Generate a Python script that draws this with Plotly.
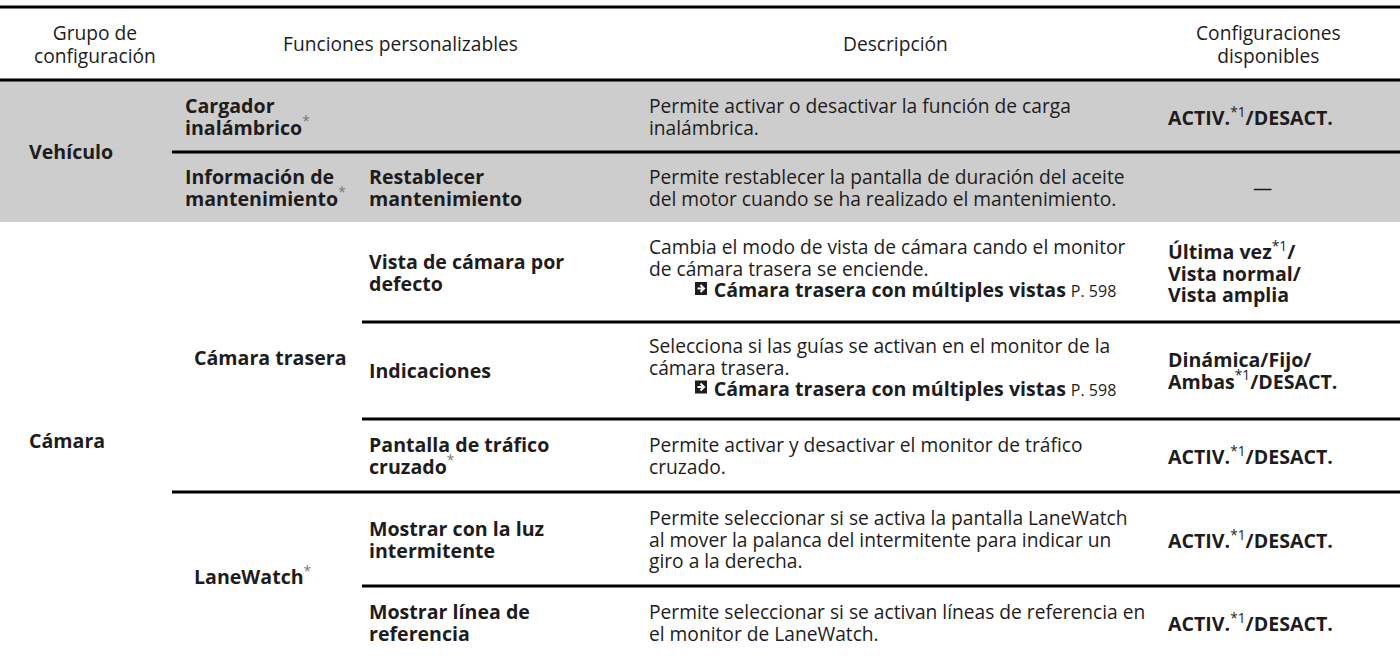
import plotly.graph_objects as go

# ---------------- data ----------------
header_labels = [["Grupo de", "configuración"], ["Funciones personalizables"],
                 ["Descripción"], ["Configuraciones", "disponibles"]]

group_names = ["Vehículo", "Cámara"]
group_spans = [(0, 2), (2, 7)]

subgroup_names = [["Cargador", "inalámbrico*"], ["Información de", "mantenimiento*"],
                  ["Cámara trasera"], ["LaneWatch*"]]
subgroup_spans = [(0, 1), (1, 2), (2, 5), (5, 7)]

function_names = [[], ["Restablecer", "mantenimiento"], ["Vista de cámara por", "defecto"],
                  ["Indicaciones"], ["Pantalla de tráfico", "cruzado*"],
                  ["Mostrar con la luz", "intermitente"], ["Mostrar línea de", "referencia"]]

descriptions = [
    ["Permite activar o desactivar la función de carga", "inalámbrica."],
    ["Permite restablecer la pantalla de duración del aceite",
     "del motor cuando se ha realizado el mantenimiento."],
    ["Cambia el modo de vista de cámara cando el monitor", "de cámara trasera se enciende."],
    ["Selecciona si las guías se activan en el monitor de la", "cámara trasera."],
    ["Permite activar y desactivar el monitor de tráfico", "cruzado."],
    ["Permite seleccionar si se activa la pantalla LaneWatch",
     "al mover la palanca del intermitente para indicar un", "giro a la derecha."],
    ["Permite seleccionar si se activan líneas de referencia en", "el monitor de LaneWatch."],
]

references = [None, None, ("Cámara trasera con múltiples vistas", "P. 598"),
              ("Cámara trasera con múltiples vistas", "P. 598"), None, None, None]

settings = [["ACTIV.*1/DESACT."], ["—"], ["Última vez*1/", "Vista normal/", "Vista amplia"],
            ["Dinámica/Fijo/", "Ambas*1/DESACT."], ["ACTIV.*1/DESACT."],
            ["ACTIV.*1/DESACT."], ["ACTIV.*1/DESACT."]]

shaded_groups = [0]

# ---------------- layout constants ----------------
W, H = 1400, 659
TOP = 7
ROW_EDGES = [80, 152, 222, 322, 419, 492, 586, 659]
HEADER_X = [95, 400, 895, 1268]
DASH_X = 1262
X_GROUP, X_SUB, X_SUB2, X_FUNC, X_DESC, X_SET = 28, 184, 193, 368, 648, 1167
X_SUB_LINE, X_FUNC_LINE = 172, 362
LINE_H = 21.5
HEAD_LH = 23
TXT = "#1e1c1c"
FONT = "Open Sans"
FS = 19.2
FSB = 19.6
GRAY = "#cdcdcd"
LW = 3
REF_INDENT = 13  # non-breaking spaces before the cross-reference line
ARROW_DX = 47
REF_SHIFT = 4


def fmt_bold(s):
    """bold text with non-bold superscript marks"""
    if "*1" in s:
        a, b = s.split("*1")
        return (f"<b>{a}</b>" if a else "") + "<sup>*1</sup>" + (f"<b>{b}</b>" if b else "")
    if s.endswith("*"):
        return f"<b>{s[:-1]}</b><sup><span style='color:#777'>*</span></sup>"
    return f"<b>{s}</b>"


fig = go.Figure()
fig.add_trace(go.Scatter(x=[0, W], y=[0, H], mode="markers", marker=dict(opacity=0),
                         hoverinfo="skip", showlegend=False))

shapes = []
ann = []


def block(x, mid, lines, anchor="left", bold=False, lh=LINE_H, raw=False):
    fs = FSB if bold else FS
    parts = []
    for ln in lines:
        body = ln if raw else (fmt_bold(ln) if bold else ln)
        parts.append(f"<span style='font-size:{fs}px'>{body}</span>")
    ann.append(dict(x=x, y=mid, xref="x", yref="y", text="<br>".join(parts), showarrow=False,
                    xanchor=anchor, yanchor="middle", align=anchor, borderpad=0,
                    font=dict(family=FONT, size=lh / 1.3, color=TXT)))


# shading
for g in shaded_groups:
    a, b = group_spans[g]
    shapes.append(dict(type="rect", x0=0, x1=W, y0=ROW_EDGES[a], y1=ROW_EDGES[b],
                       fillcolor=GRAY, line=dict(width=0), layer="below"))

# top and header lines
for yy in (TOP, ROW_EDGES[0]):
    shapes.append(dict(type="line", x0=0, x1=W, y0=yy, y1=yy, line=dict(color="black", width=LW)))

# header text
hmid = (TOP + ROW_EDGES[0]) / 2
for hx, lab in zip(HEADER_X, header_labels):
    block(hx, hmid, lab, anchor="center", lh=HEAD_LH)

# separators
sub_starts = {a for a, b in subgroup_spans}
grp_starts = {a for a, b in group_spans}
for r in range(1, len(function_names)):
    if r in grp_starts:
        continue
    x0 = X_SUB_LINE if r in sub_starts else X_FUNC_LINE
    shapes.append(dict(type="line", x0=x0, x1=W, y0=ROW_EDGES[r], y1=ROW_EDGES[r],
                       line=dict(color="black", width=LW)))

# groups
for name, (a, b) in zip(group_names, group_spans):
    block(X_GROUP, (ROW_EDGES[a] + ROW_EDGES[b]) / 2, [name], bold=True)

# subgroups
for name, (a, b) in zip(subgroup_names, subgroup_spans):
    xs = X_SUB if (b - a) == 1 else X_SUB2
    block(xs, (ROW_EDGES[a] + ROW_EDGES[b]) / 2, name, bold=True)

# rows
for r in range(len(function_names)):
    mid = (ROW_EDGES[r] + ROW_EDGES[r + 1]) / 2
    if function_names[r]:
        block(X_FUNC, mid, function_names[r], bold=True)
    lines = list(descriptions[r])
    if references[r]:
        rt, rp = references[r]
        lines.append("\u00a0" * REF_INDENT +
                     f"<span style='font-size:{FSB}px'><b>{rt}</b></span> "
                     f"<span style='font-size:16px'>{rp}</span>")
        bmid = mid - REF_SHIFT
        block(X_DESC, bmid, lines)
        yr = bmid + (len(lines) - 1) / 2 * LINE_H - 1
        ax = X_DESC + ARROW_DX
        shapes.append(dict(type="rect", x0=ax, x1=ax + 12, y0=yr - 6.5, y1=yr + 6.5,
                           fillcolor=TXT, line=dict(width=0)))
        shapes.append(dict(type="path",
                           path=f"M {ax + 2.5},{yr} L {ax + 8.5},{yr} M {ax + 5.5},{yr - 3.5} "
                                f"L {ax + 9},{yr} L {ax + 5.5},{yr + 3.5}",
                           line=dict(color="white", width=2)))
    else:
        block(X_DESC, mid, lines)
    s = settings[r]
    if s == ["—"]:
        block(DASH_X, mid, s, anchor="center")
    else:
        block(X_SET, mid, s, bold=True)

fig.update_layout(
    width=W, height=H, margin=dict(l=0, r=0, t=0, b=0),
    paper_bgcolor="white", plot_bgcolor="white",
    xaxis=dict(range=[0, W], visible=False, fixedrange=True),
    yaxis=dict(range=[H, 0], visible=False, fixedrange=True),
    shapes=shapes, annotations=ann, showlegend=False,
)

fig.write_html("out.html", config={"displayModeBar": False, "staticPlot": True},
               post_script="document.body.style.margin='0';")
